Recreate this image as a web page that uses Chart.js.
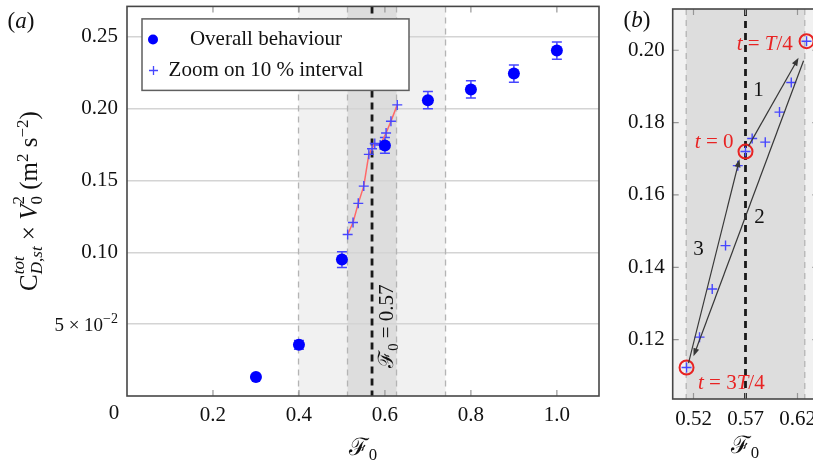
<!DOCTYPE html>
<html>
<head>
<meta charset="utf-8">
<script src="https://cdn.jsdelivr.net/npm/chart.js@4.4.1/dist/chart.umd.min.js"></script>
<style>
  html, body { margin: 0; padding: 0; background: #fff; }
  body { width: 813px; height: 464px; overflow: hidden; position: relative; font-family: 'Liberation Serif', 'DejaVu Serif', serif; color: #111; }
  canvas { position: absolute; top: 0; }
  #chartA { left: 0; }
  #chartB { left: 600px; }
  .lbl { position: absolute; white-space: nowrap; line-height: 1; transform: translate(-50%, -50%); }
  .ss { display: inline-block; vertical-align: -0.3em; font-size: 0.68em; line-height: 1.05; text-align: left; }
  .ss span { display: block; }
  sup { font-size: 0.68em; vertical-align: 0.55em; }
  sub.f { font-size: 0.7em; vertical-align: -0.3em; }
</style>
</head>
<body>
<canvas id="chartA" width="606" height="464"></canvas>
<canvas id="chartB" width="240" height="464"></canvas>

<div class="lbl" style="left:21px; top:20px; font-size:23px;">(<i>a</i>)</div>
<div class="lbl" style="left:637px; top:19px; font-size:23px;">(<i>b</i>)</div>
<div class="lbl" style="left:28px; top:201px; font-size:25px; transform: translate(-50%, -50%) rotate(-90deg);">C<span class="ss"><span><i>tot</i></span><span><i>D</i>,<i>st</i></span></span> × <i>V</i><span class="ss"><span>2</span><span>0</span></span> (m<sup>2</sup> s<sup>−2</sup>)</div>
<div class="lbl" style="left:363px; top:449px; font-size:24px;">ℱ<sub class="f">0</sub></div>
<div class="lbl" style="left:745px; top:447px; font-size:24px;">ℱ<sub class="f">0</sub></div>

<script>
// overall behaviour (panel a)
const overallF0 = [0.3, 0.4, 0.5, 0.6, 0.7, 0.8, 0.9, 1.0]
const overallC = [0.0132, 0.0356, 0.0949, 0.1743, 0.2058, 0.2132, 0.2243, 0.2403]
const overallErr = [0.001, 0.003, 0.0055, 0.0055, 0.006, 0.006, 0.006, 0.006]

// zoom on the 10 % interval (both panels)
const zoomF0 = [0.5133, 0.5258, 0.538, 0.5508, 0.5626, 0.570, 0.5764, 0.589, 0.6027, 0.614, 0.6287]
const zoomC = [0.1123, 0.1207, 0.134, 0.146, 0.1681, 0.172, 0.1756, 0.1746, 0.1829, 0.1911, 0.2025]

// t = 0, t = T/4, t = 3T/4
const keyIdx = [5, 10, 0]
const keyText = [
  [['t', 'i'], [' = 0', '']],
  [['t', 'i'], [' = ', ''], ['T', 'i'], ['/4', '']],
  [['t', 'i'], [' = 3', ''], ['T', 'i'], ['/4', '']]
]
const keyTextAt = [[0.5585, 0.1748, 'right'], [0.6155, 0.2021, 'right'], [0.5243, 0.1083, 'left']]

// cycle arrows in panel b
const arrowFrom = [[0.5729, 0.1735], [0.6258, 0.1971], [0.5152, 0.1135]]
const arrowTo = [[0.621, 0.1979], [0.52, 0.1154], [0.5642, 0.1699]]
const arrowNames = ['1', '2', '3']
const arrowNameAt = [[0.5825, 0.1894], [0.5835, 0.1542], [0.5248, 0.1454]]

const legendLabels = ['Overall behaviour', 'Zoom on 10 % interval']

const xTicksA = [0, 0.2, 0.4, 0.6, 0.8, 1.0]
const xLabelsA = ['', '0.2', '0.4', '0.6', '0.8', '1.0']
const yTicksA = [0, 0.05, 0.10, 0.15, 0.20, 0.25]
const yLabelsA = ['', '', '0.10', '0.15', '0.20', '0.25']
const xTicksB = [0.52, 0.57, 0.62]
const xLabelsB = ['0.52', '0.57', '0.62']
const yTicksB = [0.12, 0.14, 0.16, 0.18, 0.20]
const yLabelsB = ['0.12', '0.14', '0.16', '0.18', '0.20']

const F0 = 0.57
const band10 = [0.513, 0.627]
const band30 = [0.399, 0.741]
const f0LabelY = 0.0486

const FONT = "'Liberation Serif', 'DejaVu Serif', serif"
const BLUE = 'rgb(0,0,255)'
const CROSS = 'rgb(70,70,255)'
const RED = 'rgb(232,35,35)'

Chart.defaults.font.family = FONT
Chart.defaults.font.size = 21
Chart.defaults.color = '#111'
Chart.defaults.animation = false

// text with italic / sub / sup parts, y is the baseline
function rich(ctx, parts, x, y, align, size) {
  const fontOf = s => (s.includes('i') ? 'italic ' : '') + (s.includes('sub') || s.includes('sup') ? size * 0.7 : size) + 'px ' + FONT
  let w = 0
  parts.forEach(([t, s]) => { ctx.font = fontOf(s); w += ctx.measureText(t).width })
  let cx = align === 'right' ? x - w : align === 'center' ? x - w / 2 : x
  ctx.textAlign = 'left'
  ctx.textBaseline = 'alphabetic'
  parts.forEach(([t, s]) => {
    ctx.font = fontOf(s)
    const dy = s.includes('sub') ? size * 0.25 : s.includes('sup') ? -size * 0.4 : 0
    ctx.fillText(t, cx, y + dy)
    cx += ctx.measureText(t).width
  })
}

function drawBands(chart) {
  const { ctx, chartArea: a, scales: { x } } = chart
  ctx.save()
  ctx.beginPath(); ctx.rect(a.left, a.top, a.width, a.height); ctx.clip()
  const fill = (lo, hi, c) => {
    const x0 = x.getPixelForValue(lo)
    ctx.fillStyle = c
    ctx.fillRect(x0, a.top, x.getPixelForValue(hi) - x0, a.height)
  }
  fill(band30[0], band30[1], 'rgb(241,241,241)')
  fill(band10[0], band10[1], 'rgb(221,221,221)')
  ctx.restore()
}

function drawVLines(chart) {
  const { ctx, chartArea: a, scales: { x } } = chart
  const vline = (v, color, w, dash) => {
    const px = x.getPixelForValue(v)
    if (px < a.left || px > a.right) return
    ctx.strokeStyle = color; ctx.lineWidth = w; ctx.setLineDash(dash)
    ctx.beginPath(); ctx.moveTo(px, a.top); ctx.lineTo(px, a.bottom); ctx.stroke()
  }
  ctx.save()
  band30.concat(band10).forEach(v => vline(v, 'rgb(180,180,180)', 1.3, [6, 5]))
  vline(F0, 'rgb(25,25,25)', 2.8, [7, 5])
  ctx.restore()
}

function innerTicks(chart, xs, ys) {
  const { ctx, chartArea: a, scales: { x, y } } = chart
  ctx.save()
  ctx.strokeStyle = 'rgb(150,150,150)'; ctx.lineWidth = 1.2
  ctx.beginPath()
  xs.forEach(v => {
    const px = x.getPixelForValue(v)
    ctx.moveTo(px, a.top); ctx.lineTo(px, a.top + 6)
    ctx.moveTo(px, a.bottom); ctx.lineTo(px, a.bottom - 6)
  })
  ys.forEach(v => {
    const py = y.getPixelForValue(v)
    ctx.moveTo(a.left, py); ctx.lineTo(a.left + 6, py)
    ctx.moveTo(a.right, py); ctx.lineTo(a.right - 6, py)
  })
  ctx.stroke()
  ctx.restore()
}

function drawBox(chart) {
  const { ctx, chartArea: a } = chart
  ctx.save()
  ctx.strokeStyle = 'rgb(70,70,70)'; ctx.lineWidth = 1.6
  ctx.strokeRect(a.left, a.top, a.width, a.height)
  ctx.restore()
}

function cross(ctx, x, y, r) {
  ctx.beginPath(); ctx.moveTo(x - r, y); ctx.lineTo(x + r, y); ctx.moveTo(x, y - r); ctx.lineTo(x, y + r); ctx.stroke()
}

const panelA = {
  id: 'panelA',
  beforeDraw: chart => drawBands(chart),
  beforeDatasetsDraw(chart) {
    const { ctx, scales: { x, y } } = chart
    drawVLines(chart)
    innerTicks(chart, xTicksA.slice(1), [])
    ctx.save()
    ctx.strokeStyle = CROSS; ctx.lineWidth = 1.5
    overallF0.forEach((f, i) => {
      const px = x.getPixelForValue(f)
      const lo = y.getPixelForValue(overallC[i] - overallErr[i])
      const hi = y.getPixelForValue(overallC[i] + overallErr[i])
      ctx.beginPath()
      ctx.moveTo(px, lo); ctx.lineTo(px, hi)
      ctx.moveTo(px - 5, lo); ctx.lineTo(px + 5, lo)
      ctx.moveTo(px - 5, hi); ctx.lineTo(px + 5, hi)
      ctx.stroke()
    })
    ctx.restore()
  },
  afterDatasetsDraw(chart) {
    const { ctx, chartArea: a, scales: { x, y } } = chart
    ctx.save()
    // F0 = 0.57 label along the dashed line
    ctx.fillStyle = '#111'
    ctx.translate(x.getPixelForValue(F0) + 14, y.getPixelForValue(f0LabelY))
    ctx.rotate(-Math.PI / 2)
    rich(ctx, [['ℱ', ''], ['0', 'sub'], [' = 0.57', '']], 0, 7, 'center', 21)
    ctx.restore()

    // legend
    const lx = a.left + 15, ly = a.top + 12.5, lw = 267, lh = 71.5
    ctx.save()
    ctx.fillStyle = '#fff'; ctx.fillRect(lx, ly, lw, lh)
    ctx.strokeStyle = 'rgb(95,95,95)'; ctx.lineWidth = 1.5; ctx.strokeRect(lx, ly, lw, lh)
    ctx.fillStyle = BLUE
    ctx.beginPath(); ctx.arc(lx + 11, ly + 20.6, 5, 0, Math.PI * 2); ctx.fill()
    ctx.strokeStyle = CROSS; ctx.lineWidth = 1.3
    cross(ctx, lx + 11.5, ly + 51.6, 4.5)
    ctx.fillStyle = '#111'; ctx.font = '21px ' + FONT
    ctx.textAlign = 'center'; ctx.textBaseline = 'middle'
    ctx.fillText(legendLabels[0], lx + 124, ly + 21)
    ctx.fillText(legendLabels[1], lx + 124, ly + 52)
    ctx.restore()
  },
  afterDraw(chart) {
    const { ctx, chartArea: a, scales: { x, y } } = chart
    drawBox(chart)
    ctx.save()
    ctx.fillStyle = '#111'
    // origin label, set off to the left of the corner
    ctx.font = '21px ' + FONT; ctx.textAlign = 'center'; ctx.textBaseline = 'top'
    ctx.fillText('0', x.getPixelForValue(0) - 13, a.bottom + 7)
    // 5 x 10^-2 tick label
    const py = y.getPixelForValue(0.05)
    ctx.font = '14px ' + FONT
    const wSup = ctx.measureText('−2').width
    ctx.font = '19px ' + FONT; ctx.textAlign = 'right'; ctx.textBaseline = 'alphabetic'
    ctx.fillText('5 × 10', a.left - 9 - wSup, py + 7)
    ctx.font = '14px ' + FONT
    ctx.fillText('−2', a.left - 9, py - 1)
    ctx.restore()
  }
}

const panelB = {
  id: 'panelB',
  beforeDraw: chart => drawBands(chart),
  beforeDatasetsDraw(chart) {
    drawVLines(chart)
    innerTicks(chart, xTicksB, yTicksB)
  },
  afterDatasetsDraw(chart) {
    const { ctx, scales: { x, y } } = chart
    ctx.save()
    ctx.strokeStyle = 'rgb(55,55,55)'; ctx.fillStyle = 'rgb(55,55,55)'; ctx.lineWidth = 1.2
    arrowFrom.forEach((p, i) => {
      const x1 = x.getPixelForValue(p[0]), y1 = y.getPixelForValue(p[1])
      const x2 = x.getPixelForValue(arrowTo[i][0]), y2 = y.getPixelForValue(arrowTo[i][1])
      const ang = Math.atan2(y2 - y1, x2 - x1), h = 8, w = 3
      ctx.beginPath(); ctx.moveTo(x1, y1); ctx.lineTo(x2 - Math.cos(ang) * h * 0.7, y2 - Math.sin(ang) * h * 0.7); ctx.stroke()
      ctx.beginPath()
      ctx.moveTo(x2, y2)
      ctx.lineTo(x2 - Math.cos(ang) * h + Math.sin(ang) * w, y2 - Math.sin(ang) * h - Math.cos(ang) * w)
      ctx.lineTo(x2 - Math.cos(ang) * h - Math.sin(ang) * w, y2 - Math.sin(ang) * h + Math.cos(ang) * w)
      ctx.closePath(); ctx.fill()
    })
    ctx.fillStyle = '#111'
    arrowNames.forEach((n, i) => rich(ctx, [[n, '']], x.getPixelForValue(arrowNameAt[i][0]), y.getPixelForValue(arrowNameAt[i][1]) + 7, 'center', 21))
    ctx.fillStyle = RED
    keyText.forEach((parts, i) => {
      const [kx, ky, al] = keyTextAt[i]
      rich(ctx, parts, x.getPixelForValue(kx), y.getPixelForValue(ky) + 7, al, 21)
    })
    ctx.restore()
  },
  afterDraw: chart => drawBox(chart)
}

const fixedAxis = (size, isX) => s => {
  if (isX) s.height = size; else s.width = size
  s.paddingTop = 0; s.paddingBottom = 0; s.paddingLeft = 0; s.paddingRight = 0
}
const setTicks = values => s => { s.ticks = values.map(v => ({ value: v })) }

const zoomPts = zoomF0.map((f, i) => ({ x: f, y: zoomC[i] }))

new Chart(document.getElementById('chartA'), {
  type: 'scatter',
  data: {
    datasets: [
      {
        label: legendLabels[0],
        data: overallF0.map((f, i) => ({ x: f, y: overallC[i] })),
        pointStyle: 'circle', pointRadius: 6,
        backgroundColor: BLUE, borderColor: BLUE, borderWidth: 0
      },
      {
        label: legendLabels[1],
        data: zoomPts,
        showLine: true, borderColor: 'rgb(255,105,105)', borderWidth: 1.5,
        pointStyle: 'cross', pointRadius: 5,
        pointBorderColor: CROSS, pointBackgroundColor: CROSS, pointBorderWidth: 1.4
      }
    ]
  },
  options: {
    responsive: false,
    events: [],
    layout: { padding: { top: 4.5, right: 7, left: 0, bottom: 0 } },
    plugins: { legend: { display: false }, tooltip: { enabled: false } },
    scales: {
      x: {
        type: 'linear', min: 0, max: 1.098,
        afterFit: fixedAxis(68, true),
        afterBuildTicks: setTicks(xTicksA),
        grid: { display: false, drawTicks: false }, border: { display: false },
        ticks: { padding: 7, maxRotation: 0, autoSkip: false, callback: (v, i) => xLabelsA[i] }
      },
      y: {
        type: 'linear', min: 0, max: 0.271,
        afterFit: fixedAxis(127, false),
        afterBuildTicks: setTicks(yTicksA),
        grid: { drawTicks: false, color: c => c.tick && c.tick.value === 0 ? 'transparent' : 'rgb(212,212,212)', lineWidth: 1.4 },
        border: { display: false },
        ticks: { padding: 9, autoSkip: false, callback: (v, i) => yLabelsA[i] }
      }
    }
  },
  plugins: [panelA]
})

new Chart(document.getElementById('chartB'), {
  type: 'scatter',
  data: {
    datasets: [
      {
        label: 'key times',
        data: keyIdx.map(k => zoomPts[k]),
        pointStyle: 'circle', pointRadius: 7,
        backgroundColor: 'transparent', borderColor: RED, borderWidth: 2
      },
      {
        label: legendLabels[1],
        data: zoomPts,
        pointStyle: 'cross', pointRadius: 5,
        pointBorderColor: CROSS, pointBackgroundColor: CROSS, pointBorderWidth: 1.4
      }
    ]
  },
  options: {
    responsive: false,
    events: [],
    layout: { padding: { top: 7, right: 21.7, left: 0, bottom: 0 } },
    plugins: { legend: { display: false }, tooltip: { enabled: false } },
    scales: {
      x: {
        type: 'linear', min: 0.50, max: 0.64,
        afterFit: fixedAxis(65, true),
        afterBuildTicks: setTicks(xTicksB),
        grid: { display: false, drawTicks: false }, border: { display: false },
        ticks: { padding: 8, maxRotation: 0, autoSkip: false, callback: (v, i) => xLabelsB[i] }
      },
      y: {
        type: 'linear', min: 0.1036, max: 0.2114,
        afterFit: fixedAxis(72.7, false),
        afterBuildTicks: setTicks(yTicksB),
        grid: { display: false, drawTicks: false }, border: { display: false },
        ticks: { padding: 8, autoSkip: false, callback: (v, i) => yLabelsB[i] }
      }
    }
  },
  plugins: [panelB]
})
</script>
</body>
</html>
